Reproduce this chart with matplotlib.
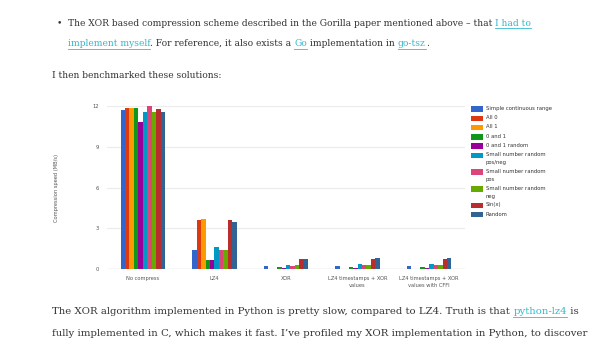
import matplotlib
matplotlib.use("Agg")
import matplotlib.pyplot as plt
import matplotlib.transforms as mtransforms
import numpy as np
from matplotlib.patches import Rectangle
from matplotlib.lines import Line2D

W, H = 600, 338

groups = [
    "No compress",
    "LZ4",
    "XOR",
    "LZ4 timestamps + XOR\nvalues",
    "LZ4 timestamps + XOR\nvalues with CFFI",
]
series_names = [
    "Simple continuous range",
    "All 0",
    "All 1",
    "0 and 1",
    "0 and 1 random",
    "Small number random\npos/neg",
    "Small number random\npos",
    "Small number random\nneg",
    "Sin(x)",
    "Random",
]
series_colors = [
    "#3366cc", "#dc3912", "#ff9900", "#109618", "#990099",
    "#0099c6", "#dd4477", "#66aa00", "#b82e2e", "#316395",
]
# compression speed (MB/s), one list per data set, in group order
simple_range = [11.66, 1.39, 0.22, 0.22, 0.22]
all_zero = [11.81, 3.62, 0.02, 0.02, 0.02]
all_one = [11.81, 3.67, 0.02, 0.02, 0.02]
zero_one = [11.83, 0.68, 0.17, 0.17, 0.17]
zero_one_random = [10.78, 0.68, 0.10, 0.10, 0.12]
small_posneg = [11.56, 1.64, 0.34, 0.39, 0.37]
small_pos = [11.98, 1.39, 0.27, 0.32, 0.34]
small_neg = [11.56, 1.39, 0.34, 0.32, 0.34]
sin_x = [11.78, 3.59, 0.76, 0.78, 0.78]
random_vals = [11.56, 3.45, 0.76, 0.83, 0.83]
series_values = [
    simple_range, all_zero, all_one, zero_one, zero_one_random,
    small_posneg, small_pos, small_neg, sin_x, random_vals,
]
y_ticks = [0, 3, 6, 9, 12]

TEXT = "#333333"
LINK = "#35b9cc"
SERIF = "DejaVu Serif"

fig = plt.figure(figsize=(W / 100, H / 100), dpi=100)
fig.patch.set_facecolor("white")
# pixel coordinates with the origin in the top-left corner
px = mtransforms.Affine2D().scale(1 / W, -1 / H).translate(0, 1) + fig.transFigure
renderer = fig.canvas.get_renderer()

# ---- chart ----
ax = fig.add_axes([107 / W, (H - 269.3) / H, 358 / W, 163.6 / H])
n = len(series_names)
bw = 0.062
x = np.arange(len(groups))
for i, (vals, col) in enumerate(zip(series_values, series_colors)):
    ax.bar(x + (i - (n - 1) / 2) * bw, vals, width=bw, color=col, linewidth=0, zorder=3)

ax.set_xlim(-0.5, len(groups) - 0.5)
ax.set_ylim(0, 12)
ax.set_yticks(y_ticks)
ax.set_yticklabels([str(t) for t in y_ticks])
ax.set_xticks(x)
ax.set_xticklabels(groups, linespacing=1.45)
ax.tick_params(axis="both", length=0, labelsize=3.7, colors="#555555")
ax.tick_params(axis="y", pad=6)
ax.tick_params(axis="x", pad=5)
for sp in ax.spines.values():
    sp.set_visible(False)
ax.grid(axis="y", color="#ebebeb", linewidth=0.8, zorder=0)
ax.axhline(0, color="#888888", linewidth=0.8, zorder=4)
ax.set_ylabel("Compression speed (MB/s)", fontsize=3.7, color="#555555", labelpad=24)

# ---- legend ----
ly = 109
for name, col in zip(series_names, series_colors):
    fig.patches.append(Rectangle((471, ly - 2.8), 12, 5.6, transform=px,
                                 facecolor=col, edgecolor="none"))
    fig.text(485.5, ly - 3.1, name, transform=px, fontsize=3.75, color="#333333",
             va="top", ha="left", linespacing=1.75)
    ly += 9.3 + 7.3 * name.count("\n")


# ---- page text ----
def adv(s, size):
    # horizontal advance of a string, trailing spaces included
    t = fig.text(0, 0, s + "|", fontsize=size, family=SERIF)
    b = fig.text(0, 0, "|", fontsize=size, family=SERIF)
    w = t.get_window_extent(renderer).width - b.get_window_extent(renderer).width
    t.remove()
    b.remove()
    return w


def fit_size(runs, width):
    base = 7.0
    return base * width / adv("".join(s for s, _ in runs), base)


def draw_line(x0, y0, runs, size):
    xc = x0
    for s, is_link in runs:
        col = LINK if is_link else TEXT
        fig.text(xc, y0, s, transform=px, fontsize=size, color=col,
                 family=SERIF, va="center", ha="left")
        w = adv(s, size)
        if is_link:
            fig.add_artist(Line2D([xc, xc + w], [y0 + 5.2, y0 + 5.2], transform=px,
                                  color=LINK, linewidth=0.6))
        xc += w


line1 = [("The XOR based compression scheme described in the Gorilla paper mentioned above \u2013 that ", False),
         ("I had to", True)]
line2 = [("implement myself", True), (". For reference, it also exists a ", False),
         ("Go", True), (" implementation in ", False), ("go-tsz", True), (".", False)]
line3 = [("I then benchmarked these solutions:", False)]
line4 = [("The XOR algorithm implemented in Python is pretty slow, compared to LZ4. Truth is that ", False),
         ("python-lz4", True), (" is", False)]
line5 = [("fully implemented in C, which makes it fast. I\u2019ve profiled my XOR implementation in Python, to discover", False)]

# bullet text and the paragraph below the chart use their own sizes
top_size = fit_size(line1, 531.7 - 67.7)
body_size = fit_size(line4, 585 - 52.3)

fig.text(59, 23, "\u2022", transform=px, fontsize=top_size, color=TEXT,
         family=SERIF, va="center", ha="center")
draw_line(67.7, 23, line1, top_size)
draw_line(67.7, 43.5, line2, top_size)
draw_line(52.3, 75, line3, top_size)
draw_line(52.3, 312, line4, body_size)
draw_line(52.3, 334, line5, body_size)

fig.savefig("out.png", dpi=100, facecolor="white")
